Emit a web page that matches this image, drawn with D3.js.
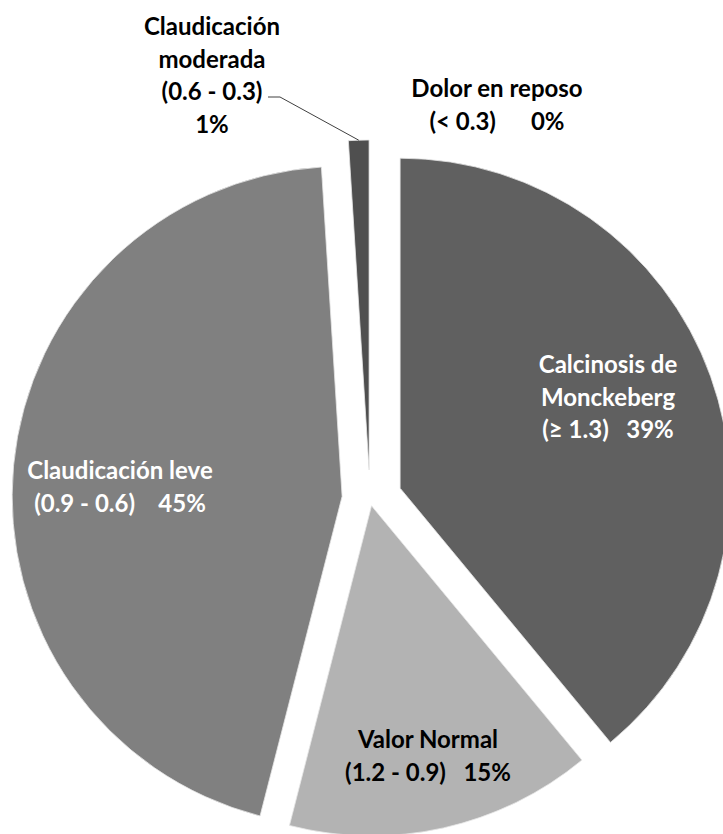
<!DOCTYPE html>
<html>
<head>
<meta charset="utf-8">
<script src="https://cdn.jsdelivr.net/npm/d3@7"></script>
<style>
  html, body { margin: 0; padding: 0; background: #fff; }
  svg { display: block; }
</style>
</head>
<body>
<script>
// Datos
const categories = ["Calcinosis de Monckeberg", "Valor Normal", "Claudicación leve", "Claudicación moderada", "Dolor en reposo"];
const ranges = ["(≥ 1.3)", "(1.2 - 0.9)", "(0.9 - 0.6)", "(0.6 - 0.3)", "(< 0.3)"];
const values = [39, 15, 45, 1, 0];

const width = 723, height = 834;
const cx = 370, cy = 499, radius = 330;

// Estilo por categoría
const fills = ["#606060", "#b3b3b3", "#808080", "#4f4f4f", "#3a3a3a"];
const explode = [32, 7, 28, 29, 29];
const labelStyle = [
  {x: 608, y: 363, color: "#fff", lines: (n, r, p) => ["Calcinosis de", "Monckeberg", `${r}   ${p}`]},
  {x: 428, y: 738, color: "#000", lines: (n, r, p) => [n, `${r}   ${p}`]},
  {x: 120, y: 469, color: "#fff", lines: (n, r, p) => [n, `${r}    ${p}`]},
  {x: 212, y: 25,  color: "#000", lines: (n, r, p) => ["Claudicación", "moderada", r, p]},
  {x: 497, y: 87,  color: "#000", lines: (n, r, p) => [n, `${r}      ${p}`]},
];
const lineHeight = 32.5;

const data = categories.map((c, i) => ({name: c, range: ranges[i], value: values[i], i}));
const total = d3.sum(values);
const pct = d3.format(".0%");

const svg = d3.select("body").append("svg")
  .attr("width", width)
  .attr("height", height)
  .attr("viewBox", [0, 0, width, height])
  .style("font-family", "Lato, 'Open Sans', sans-serif");

const pie = d3.pie().sort(null).value(d => d.value).startAngle(0).endAngle(2 * Math.PI);
const arcs = pie(data);
const arc = d3.arc().innerRadius(0).outerRadius(radius);

// Desplazamiento de cada porción (explosión)
function offset(a) {
  const mid = (a.startAngle + a.endAngle) / 2;
  const d = explode[a.data.i];
  return [Math.sin(mid) * d, -Math.cos(mid) * d];
}

const slices = svg.append("g").attr("transform", `translate(${cx},${cy})`);

slices.selectAll("path")
  .data(arcs.filter(a => a.value > 0))
  .join("path")
  .attr("transform", a => `translate(${offset(a)})`)
  .attr("d", arc)
  .attr("fill", a => fills[a.data.i])
  .attr("stroke", "#e6e6e6")
  .attr("stroke-width", 0.8);

// Línea guía para "Claudicación moderada"
const mod = arcs[3];
const [mx, my] = offset(mod);
const midA = (mod.startAngle + mod.endAngle) / 2;
const tip = [cx + mx + Math.sin(midA) * radius, cy + my - Math.cos(midA) * radius];
svg.append("polyline")
  .attr("points", [[268, 97], [280, 97], tip].map(p => p.join(",")).join(" "))
  .attr("fill", "none")
  .attr("stroke", "#404040")
  .attr("stroke-width", 1);

// Etiquetas
const labels = svg.append("g")
  .attr("font-weight", 700)
  .attr("font-size", 24)
  .attr("text-anchor", "middle");

data.forEach((d, i) => {
  const s = labelStyle[i];
  const lines = s.lines(d.name, d.range, pct(d.value / total));
  const t = labels.append("text")
    .attr("fill", s.color)
    .attr("dominant-baseline", "central")
    .style("white-space", "pre");
  lines.forEach((ln, k) => {
    t.append("tspan")
      .attr("x", s.x)
      .attr("y", s.y + k * lineHeight)
      .text(ln);
  });
});
</script>
</body>
</html>
